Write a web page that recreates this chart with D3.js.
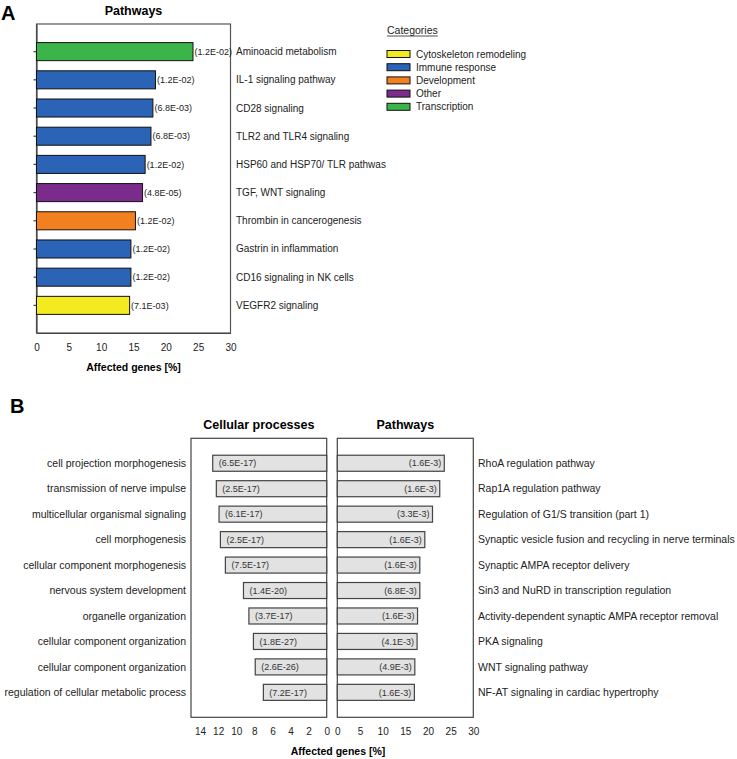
<!DOCTYPE html>
<html>
<head>
<meta charset="utf-8">
<script src="https://cdnjs.cloudflare.com/ajax/libs/d3/7.8.5/d3.min.js"></script>
<style>
body { margin: 0; background: #fff; }
svg { font-family: "Liberation Sans", Arial, sans-serif; }
</style>
</head>
<body>
<div id="chart"></div>
<script>
// ---- panel A data ----
var pathwaysA = ["Aminoacid metabolism", "IL-1 signaling pathway", "CD28 signaling", "TLR2 and TLR4 signaling",
    "HSP60 and HSP70/ TLR pathwas", "TGF, WNT signaling", "Thrombin in cancerogenesis",
    "Gastrin in inflammation", "CD16 signaling in NK cells", "VEGFR2 signaling"]
var genesA = [24.2, 18.4, 18.0, 17.7, 16.8, 16.4, 15.3, 14.6, 14.6, 14.4]
var pvalsA = ["(1.2E-02)", "(1.2E-02)", "(6.8E-03)", "(6.8E-03)", "(1.2E-02)", "(4.8E-05)",
    "(1.2E-02)", "(1.2E-02)", "(1.2E-02)", "(7.1E-03)"]
var catsA = ["Transcription", "Immune response", "Immune response", "Immune response", "Immune response",
    "Other", "Development", "Immune response", "Immune response", "Cytoskeleton remodeling"]
var categories = ["Cytoskeleton remodeling", "Immune response", "Development", "Other", "Transcription"]
var catColors = ["#f3ea1f", "#2b63b6", "#f3801f", "#7a2b8b", "#3bb54a"]
var ticksA = [0, 5, 10, 15, 20, 25, 30]

// ---- panel B data ----
var processesB = ["cell projection morphogenesis", "transmission of nerve impulse", "multicellular organismal signaling",
    "cell morphogenesis", "cellular component morphogenesis", "nervous system development",
    "organelle organization", "cellular component organization", "cellular component organization",
    "regulation of cellular metabolic process"]
var genesProc = [12.6, 12.2, 11.9, 11.75, 11.2, 9.2, 8.6, 8.1, 7.9, 7.0]
var pvalsProc = ["(6.5E-17)", "(2.5E-17)", "(6.1E-17)", "(2.5E-17)", "(7.5E-17)", "(1.4E-20)",
    "(3.7E-17)", "(1.8E-27)", "(2.6E-26)", "(7.2E-17)"]
var pathwaysB = ["RhoA regulation pathway", "Rap1A regulation pathway", "Regulation of G1/S transition (part 1)",
    "Synaptic vesicle fusion and recycling in nerve terminals", "Synaptic AMPA receptor delivery",
    "Sin3 and NuRD in transcription regulation", "Activity-dependent synaptic AMPA receptor removal",
    "PKA signaling", "WNT signaling pathway", "NF-AT signaling in cardiac hypertrophy"]
var genesPath = [23.6, 22.6, 21.0, 19.3, 18.2, 18.2, 17.7, 17.6, 17.1, 17.0]
var pvalsPath = ["(1.6E-3)", "(1.6E-3)", "(3.3E-3)", "(1.6E-3)", "(1.6E-3)", "(6.8E-3)",
    "(1.6E-3)", "(4.1E-3)", "(4.9E-3)", "(1.6E-3)"]
var ticksProc = [0, 2, 4, 6, 8, 10, 12, 14]
var ticksPath = [0, 5, 10, 15, 20, 25, 30]

var svg = d3.select("#chart")
    .append("svg")
    .attr("width", 737)
    .attr("height", 759)

// panel letter helper
var letter = function(txt, x, y)
{
    svg.append("text")
    .attr("x", x)
    .attr("y", y)
    .style("font-size", "20px")
    .style("font-weight", "bold")
    .text(txt)
}

// ================= panel A =================
var drawA = function()
{
    var xA = d3.scaleLinear().domain([0, 30]).range([36.5, 230.5])
    var yA = d3.scaleBand().domain(pathwaysA).range([24, 333]).paddingInner(0.36).paddingOuter(0.66)
    var cScale = d3.scaleOrdinal().domain(categories).range(catColors)

    letter("A", 1, 20)

    svg.append("text")
    .attr("x", (xA.range()[0] + xA.range()[1]) / 2)
    .attr("y", 14.5)
    .attr("text-anchor", "middle")
    .style("font-size", "12.5px")
    .style("font-weight", "bold")
    .text("Pathways")

    // frame
    svg.append("rect")
    .attr("x", xA(0))
    .attr("y", 24)
    .attr("width", xA(30) - xA(0))
    .attr("height", 309)
    .attr("fill", "none")
    .attr("stroke", "#555")
    .attr("stroke-width", 1.2)

    var yAxis = d3.axisLeft(yA).tickSize(3).tickSizeOuter(0).tickFormat("")
    svg.append("g")
    .attr("transform", "translate(" + xA(0) + ",0)")
    .call(yAxis)
    .call(function(g) { g.selectAll("path,line").attr("stroke", "#444").attr("stroke-width", 1.2) })

    var xAxis = d3.axisBottom(xA).tickValues(ticksA).tickSize(0).tickSizeOuter(0).tickPadding(11)
    svg.append("g")
    .attr("transform", "translate(0,333)")
    .call(xAxis)
    .call(function(g)
    {
        g.select(".domain").attr("stroke", "#444").attr("stroke-width", 1.2)
        g.selectAll("text").style("font-size", "10px").attr("fill", "#222").style("font-family", "inherit")
    })

    svg.append("text")
    .attr("x", (xA.range()[0] + xA.range()[1]) / 2)
    .attr("y", 371)
    .attr("text-anchor", "middle")
    .style("font-size", "10.5px")
    .style("font-weight", "bold")
    .text("Affected genes [%]")

    var rows = svg.append("g")
    .selectAll("g")
    .data(pathwaysA)
    .enter()
    .append("g")

    rows.append("rect")
    .attr("x", xA(0))
    .attr("y", function(d) { return yA(d) })
    .attr("width", function(d, i) { return xA(genesA[i]) - xA(0) })
    .attr("height", yA.bandwidth())
    .attr("fill", function(d, i) { return cScale(catsA[i]) })
    .attr("stroke", "#111")
    .attr("stroke-width", 1)

    rows.append("text")
    .attr("x", function(d, i) { return xA(genesA[i]) + 1.5 })
    .attr("y", function(d) { return yA(d) + yA.bandwidth() / 2 })
    .attr("dy", "0.35em")
    .style("font-size", "9px")
    .attr("fill", "#222")
    .text(function(d, i) { return pvalsA[i] })

    rows.append("text")
    .attr("x", 236)
    .attr("y", function(d) { return yA(d) + yA.bandwidth() / 2 })
    .attr("dy", "0.35em")
    .style("font-size", "10px")
    .attr("fill", "#222")
    .text(function(d) { return d })

    // legend
    var title = svg.append("text")
    .attr("x", 387)
    .attr("y", 34)
    .style("font-size", "10.5px")
    .attr("fill", "#222")
    .text("Categories")
    var tw = title.node().getComputedTextLength()
    svg.append("line")
    .attr("x1", 387).attr("x2", 387 + tw)
    .attr("y1", 36).attr("y2", 36)
    .attr("stroke", "#222")
    .attr("stroke-width", 0.8)

    var leg = svg.append("g")
    .selectAll("g")
    .data(categories)
    .enter()
    .append("g")
    .attr("transform", function(d, i) { return "translate(387," + (54 + i * 13.2) + ")" })

    leg.append("rect")
    .attr("x", 0)
    .attr("y", -3.5)
    .attr("width", 23)
    .attr("height", 7)
    .attr("fill", function(d) { return cScale(d) })
    .attr("stroke", "#111")
    .attr("stroke-width", 1)

    leg.append("text")
    .attr("x", 29)
    .attr("dy", "0.35em")
    .style("font-size", "10px")
    .attr("fill", "#222")
    .text(function(d) { return d })
}

// ================= panel B =================
var drawB = function()
{
    var top = 438.3, bottom = 717.3
    var xProc = d3.scaleLinear().domain([0, 15]).range([326.7, 191])
    var xPath = d3.scaleLinear().domain([0, 30]).range([337.3, 473.3])
    var yB = d3.scaleBand().domain(d3.range(processesB.length)).range([top, bottom]).paddingInner(0.37).paddingOuter(0.665)

    letter("B", 10, 413)

    svg.append("text")
    .attr("x", (xProc.range()[0] + xProc.range()[1]) / 2)
    .attr("y", 428.5)
    .attr("text-anchor", "middle")
    .style("font-size", "12.5px")
    .style("font-weight", "bold")
    .text("Cellular processes")

    svg.append("text")
    .attr("x", (xPath.range()[0] + xPath.range()[1]) / 2)
    .attr("y", 428.5)
    .attr("text-anchor", "middle")
    .style("font-size", "12.5px")
    .style("font-weight", "bold")
    .text("Pathways")

    // frames
    svg.append("rect")
    .attr("x", xProc(15)).attr("y", top)
    .attr("width", xProc(0) - xProc(15)).attr("height", bottom - top)
    .attr("fill", "none").attr("stroke", "#444").attr("stroke-width", 1.2)
    svg.append("rect")
    .attr("x", xPath(0)).attr("y", top)
    .attr("width", xPath(30) - xPath(0)).attr("height", bottom - top)
    .attr("fill", "none").attr("stroke", "#444").attr("stroke-width", 1.2)

    var styleAxis = function(g)
    {
        g.select(".domain").remove()
        g.selectAll("text").style("font-size", "10px").attr("fill", "#222").style("font-family", "inherit")
    }
    svg.append("g")
    .attr("transform", "translate(0," + bottom + ")")
    .call(d3.axisBottom(xProc).tickValues(ticksProc).tickSize(0).tickPadding(10.5))
    .call(styleAxis)
    svg.append("g")
    .attr("transform", "translate(0," + bottom + ")")
    .call(d3.axisBottom(xPath).tickValues(ticksPath).tickSize(0).tickPadding(10.5))
    .call(styleAxis)

    svg.append("text")
    .attr("x", 338)
    .attr("y", 755)
    .attr("text-anchor", "middle")
    .style("font-size", "10.5px")
    .style("font-weight", "bold")
    .text("Affected genes [%]")

    // left: cellular processes
    var left = svg.append("g")
    .selectAll("g")
    .data(processesB)
    .enter()
    .append("g")

    left.append("rect")
    .attr("x", function(d, i) { return xProc(genesProc[i]) })
    .attr("y", function(d, i) { return yB(i) })
    .attr("width", function(d, i) { return xProc(0) - xProc(genesProc[i]) })
    .attr("height", yB.bandwidth())
    .attr("fill", "#e2e2e2")
    .attr("stroke", "#444")
    .attr("stroke-width", 1.2)

    left.append("text")
    .attr("x", function(d, i) { return xProc(genesProc[i]) + 6 })
    .attr("y", function(d, i) { return yB(i) + yB.bandwidth() / 2 })
    .attr("dy", "0.35em")
    .style("font-size", "9px")
    .attr("fill", "#333")
    .text(function(d, i) { return pvalsProc[i] })

    left.append("text")
    .attr("x", 186)
    .attr("y", function(d, i) { return yB(i) + yB.bandwidth() / 2 })
    .attr("dy", "0.35em")
    .attr("text-anchor", "end")
    .style("font-size", "10.5px")
    .attr("fill", "#222")
    .text(function(d) { return d })

    // right: pathways
    var right = svg.append("g")
    .selectAll("g")
    .data(pathwaysB)
    .enter()
    .append("g")

    right.append("rect")
    .attr("x", xPath(0))
    .attr("y", function(d, i) { return yB(i) })
    .attr("width", function(d, i) { return xPath(genesPath[i]) - xPath(0) })
    .attr("height", yB.bandwidth())
    .attr("fill", "#e2e2e2")
    .attr("stroke", "#444")
    .attr("stroke-width", 1.2)

    right.append("text")
    .attr("x", function(d, i) { return xPath(genesPath[i]) - 3 })
    .attr("y", function(d, i) { return yB(i) + yB.bandwidth() / 2 })
    .attr("dy", "0.35em")
    .attr("text-anchor", "end")
    .style("font-size", "9px")
    .attr("fill", "#333")
    .text(function(d, i) { return pvalsPath[i] })

    right.append("text")
    .attr("x", 478)
    .attr("y", function(d, i) { return yB(i) + yB.bandwidth() / 2 })
    .attr("dy", "0.35em")
    .style("font-size", "10.5px")
    .attr("fill", "#222")
    .text(function(d) { return d })
}

drawA()
drawB()
</script>
</body>
</html>
